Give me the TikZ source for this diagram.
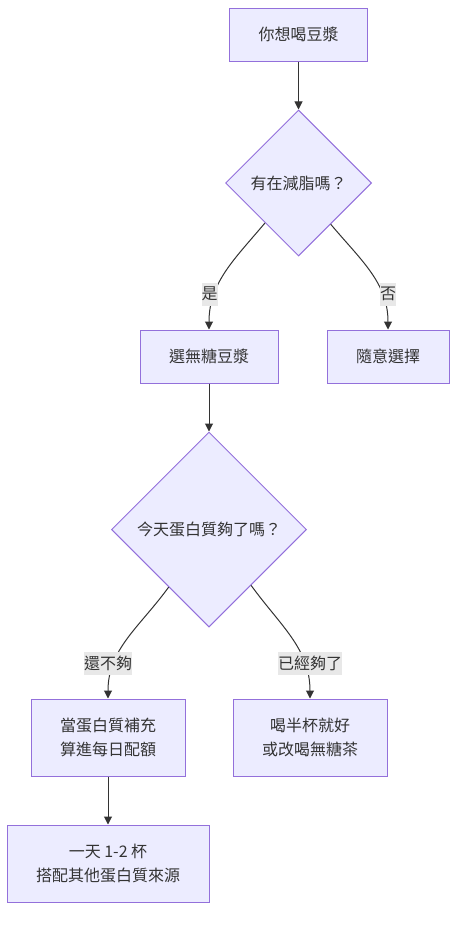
\documentclass[tikz,border=0pt]{standalone}
\usepackage{fontspec}
\setmainfont{Noto Sans CJK TC}
\usetikzlibrary{shapes.geometric,arrows.meta}
\definecolor{boxfill}{HTML}{ECECFF}
\definecolor{boxline}{HTML}{9370DB}
\definecolor{ink}{HTML}{333333}
\definecolor{lblfill}{HTML}{E8E8E8}
\tikzset{
  stepbox/.style={rectangle,draw=boxline,fill=boxfill,line width=1pt,text=ink,
    font=\fontsize{16pt}{24pt}\selectfont,inner xsep=29pt,minimum height=53pt,align=center},
  tallbox/.style={stepbox,minimum height=77pt},
  choice/.style={diamond,aspect=1,draw=boxline,fill=boxfill,line width=1pt,text=ink,
    font=\fontsize{16pt}{24pt}\selectfont,inner sep=0pt},
  edge/.style={draw=ink,line width=1pt,-{Triangle[length=8pt,width=8pt]}},
  lbl/.style={fill=lblfill,text=ink,font=\fontsize{16pt}{24pt}\selectfont,
    inner xsep=0pt,inner ysep=0pt,minimum height=23pt}
}
\begin{document}
\begin{tikzpicture}[x=1pt,y=-1pt]
\useasboundingbox (0,0) rectangle (465,926);
\node (start) [stepbox] at (298.5,34.5) {你想喝豆漿};
\node (d1) [choice,minimum width=146pt,minimum height=146pt] at (298.5,183) {有在減脂嗎？};
\node (b1) [stepbox] at (209,356.5) {選無糖豆漿};
\node (b2) [stepbox] at (388,356.5) {隨意選擇};
\node (d2) [choice,minimum width=195pt,minimum height=195pt] at (209,529.5) {今天蛋白質夠了嗎？};
\node (b3) [tallbox] at (108,737.5) {當蛋白質補充\\算進每日配額};
\node (b4) [tallbox] at (310,737.5) {喝半杯就好\\或改喝無糖茶};
\node (b5) [tallbox] at (108,863.5) {一天 1-2 杯\\搭配其他蛋白質來源};

\draw [edge] (start)--(d1);
\draw [edge] (d1.230) to[out=230,in=90] (b1);
\draw [edge] (d1.-52) to[out=-50,in=90] (b2);
\draw [edge] (b1)--(d2);
\draw [edge] (d2.235) to[out=234,in=90] (b3);
\draw [edge] (d2.-53) to[out=-54,in=90] (b4);
\draw [edge] (b3)--(b5);

\node (yes) [lbl] at (209.5,294) {是};
\node (no) [lbl] at (388,294) {否};
\node (less) [lbl] at (108,663) {還不夠};
\node (enough) [lbl] at (310,663) {已經夠了};
\end{tikzpicture}
\end{document}
